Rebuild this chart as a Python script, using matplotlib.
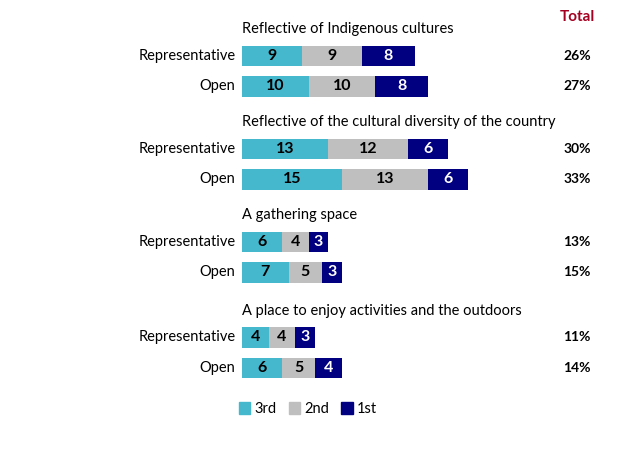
import numpy as np
import matplotlib.pyplot as plt
from matplotlib.patches import Patch

plt.rcParams['font.family'] = ['Lato', 'DejaVu Sans']

# Data
groups = ["Reflective of Indigenous cultures",
          "Reflective of the cultural diversity of the country",
          "A gathering space",
          "A place to enjoy activities and the outdoors"]
rows = ["Representative", "Open"]
third = [9, 10, 13, 15, 6, 7, 4, 6]
second = [9, 10, 12, 13, 4, 5, 4, 5]
first = [8, 8, 6, 6, 3, 3, 3, 4]
totals = ["26%", "27%", "30%", "33%", "13%", "15%", "11%", "14%"]

series = [("3rd", third, "#45B8CE", "black"),
          ("2nd", second, "#BFBFBF", "black"),
          ("1st", first, "#000080", "white")]

fig = plt.figure(figsize=(6.24, 4.68), dpi=100)
ax = fig.add_axes([0, 0, 1, 1])
ax.set_xlim(-242 / 6.65, (624 - 242) / 6.65)
ax.set_ylim((468 - 56) / 31, -56 / 31)
ax.axis('off')

group_start = [0, 3, 6, 9.08]
ypos = []
for g0 in group_start:
    ypos += [g0, g0 + 0.98]
ypos = np.array(ypos)

left = np.zeros(len(ypos))
for name, vals, color, tcolor in series:
    vals = np.array(vals)
    ax.barh(ypos, vals, left=left, height=0.66, color=color, label=name)
    for y, l, v in zip(ypos, left, vals):
        ax.text(l + v / 2, y, str(v), ha='center', va='center',
                fontsize=11.5, fontweight='bold', color=tcolor)
    left += vals

for i, y in enumerate(ypos):
    ax.text(-1.0, y, rows[i % 2], ha='right', va='center', fontsize=10.5)
    ax.text(50.4, y, totals[i], ha='center', va='center',
            fontsize=10, fontweight='bold')

for g0, title in zip(group_start, groups):
    ax.text(0, g0 - 0.86, title, ha='left', va='center', fontsize=10.5)

ax.text(50.4, -1.25, "Total", ha='center', va='center', fontsize=11,
        fontweight='bold', color='#A50021')

handles = [Patch(color=c, label=n) for n, _, c, _ in series]
fig.legend(handles=handles, loc='center', bbox_to_anchor=(308 / 624, 1 - 409 / 468),
           ncol=3, frameon=False, fontsize=10.5, handlelength=0.8,
           handleheight=0.8, handletextpad=0.3, columnspacing=0.8)

fig.savefig("out.png", dpi=100)
